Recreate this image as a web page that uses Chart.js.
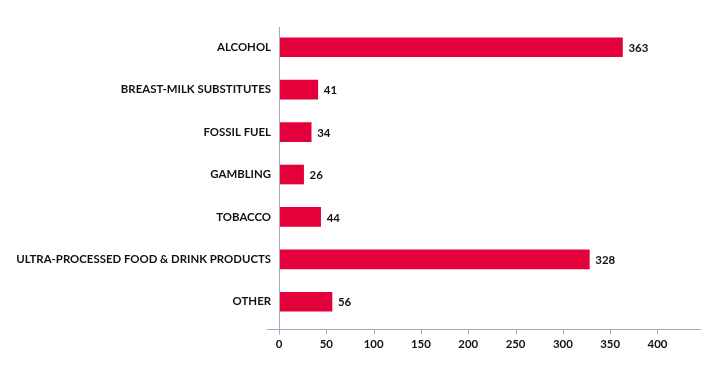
<!DOCTYPE html>
<html>
<head>
<meta charset="utf-8">
<script src="https://cdn.jsdelivr.net/npm/chart.js@4/dist/chart.umd.min.js"></script>
<style>
  html, body { margin: 0; padding: 0; background: #fff; }
  #wrap { width: 707px; height: 369px; position: relative; }
</style>
</head>
<body>
<div id="wrap"><canvas id="chartSectors"></canvas></div>
<script>
const categories = ['ALCOHOL', 'BREAST-MILK SUBSTITUTES', 'FOSSIL FUEL', 'GAMBLING', 'TOBACCO', 'ULTRA-PROCESSED FOOD & DRINK PRODUCTS', 'OTHER'];
const counts = [363, 41, 34, 26, 44, 328, 56];
const xTicks = [0, 50, 100, 150, 200, 250, 300, 350, 400];

const axisColor = '#A3AABF';
const barColor = '#E4003A';
const textColor = '#111111';
const font = { family: 'Lato', weight: '700', size: 11.4 };

// axis lines sit a few px outside the plot area, like the original
const axisLines = {
  id: 'axisLines',
  afterDraw(chart) {
    const { ctx, chartArea, scales } = chart;
    const x0 = Math.round(scales.x.getPixelForValue(0)) + 0.5;
    const axisY = Math.round(chartArea.bottom + 6) + 0.5;
    ctx.save();
    ctx.strokeStyle = axisColor;
    ctx.lineWidth = 1;
    ctx.beginPath();
    ctx.moveTo(x0, chartArea.top + 1);
    ctx.lineTo(x0, axisY);
    ctx.moveTo(x0 - 13, axisY);
    ctx.lineTo(chartArea.right, axisY);
    xTicks.forEach(v => {
      const px = Math.round(scales.x.getPixelForValue(v)) + 0.5;
      ctx.moveTo(px, axisY);
      ctx.lineTo(px, axisY + 5);
    });
    ctx.stroke();
    ctx.restore();
  }
};

const valueLabels = {
  id: 'valueLabels',
  afterDatasetsDraw(chart) {
    const { ctx } = chart;
    const meta = chart.getDatasetMeta(0);
    ctx.save();
    ctx.font = `${font.weight} ${font.size}px ${font.family}`;
    ctx.fillStyle = textColor;
    ctx.textAlign = 'left';
    ctx.textBaseline = 'middle';
    meta.data.forEach((bar, i) => {
      ctx.fillText(String(counts[i]), bar.x + 6, bar.y + 1);
    });
    ctx.restore();
  }
};

new Chart(document.getElementById('chartSectors'), {
  type: 'bar',
  data: {
    labels: categories,
    datasets: [{
      data: counts,
      backgroundColor: barColor,
      borderWidth: 0,
      barThickness: 19
    }]
  },
  options: {
    indexAxis: 'y',
    responsive: true,
    maintainAspectRatio: false,
    animation: false,
    layout: { padding: { top: 26, right: 6, bottom: 0, left: 0 } },
    plugins: { legend: { display: false }, tooltip: { enabled: false } },
    scales: {
      x: {
        min: 0,
        max: 446,
        afterBuildTicks: scale => { scale.ticks = xTicks.map(v => ({ value: v })); },
        afterFit: scale => { scale.height = 46; },
        grid: { display: false },
        border: { display: false },
        ticks: { color: textColor, font: font, padding: 6, maxRotation: 0 }
      },
      y: {
        afterFit: scale => { scale.width = 279; },
        grid: { display: false },
        border: { display: false },
        ticks: { color: textColor, font: font, padding: 0 }
      }
    }
  },
  plugins: [axisLines, valueLabels]
});
</script>
</body>
</html>
